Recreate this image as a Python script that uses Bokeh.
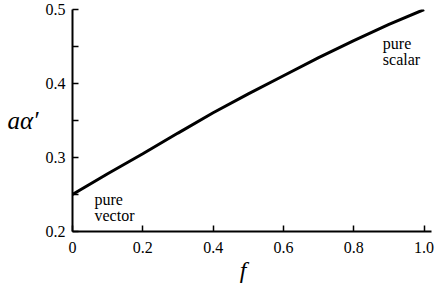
from bokeh.plotting import figure
from bokeh.models import Label, FixedTicker, Range1d
from bokeh.embed import file_html
from bokeh.resources import INLINE

# data
f_vals = [0.0, 0.1, 0.2, 0.3, 0.4, 0.5, 0.6, 0.7, 0.8, 0.9, 1.0]
alpha_vals = [0.25, 0.278, 0.305, 0.333, 0.3605, 0.386, 0.4105, 0.435, 0.458, 0.48, 0.5]
x_ticks = [0.2, 0.4, 0.6, 0.8, 1.0]
x_tick_labels = {0: "0", 0.2: "0.2", 0.4: "0.4", 0.6: "0.6", 0.8: "0.8", 1.0: "1.0"}
y_ticks = [0.2, 0.3, 0.4, 0.5]
y_minor = [0.25, 0.35, 0.45]

FONT = "Liberation Serif"

p = figure(width=442, height=285, output_backend="svg", toolbar_location=None,
           x_range=Range1d(0, 1.021), y_range=Range1d(0.2, 0.5),
           min_border_left=72, min_border_right=11, min_border_top=9, min_border_bottom=52)
p.outline_line_color = None
p.grid.visible = False
p.background_fill_color = "white"
p.border_fill_color = "white"

p.line(f_vals, alpha_vals, line_width=3, line_color="black")

xa = p.xaxis[0]
xa.ticker = FixedTicker(ticks=[0.0] + x_ticks)
xa.major_label_overrides = x_tick_labels
ya = p.yaxis[0]
ya.ticker = FixedTicker(ticks=y_ticks, minor_ticks=y_minor)

for ax in (xa, ya):
    ax.axis_line_width = 2
    ax.axis_line_color = "black"
    ax.major_tick_in = 6
    ax.major_tick_out = 0
    ax.major_tick_line_width = 1.5
    ax.major_tick_line_color = "black"
    ax.major_label_text_font = FONT
    ax.major_label_text_font_style = "normal"
    ax.major_label_text_font_size = "16px"
    ax.major_label_text_color = "black"
    ax.axis_label_text_font = FONT
    ax.axis_label_text_color = "black"

xa.major_label_standoff = 10
ya.major_label_standoff = 7

xa.minor_tick_line_color = None
ya.minor_tick_in = 6
ya.minor_tick_out = 0
ya.minor_tick_line_width = 1.5
ya.minor_tick_line_color = "black"

xa.axis_label = "f\u00a0\u00a0\u00a0"
xa.axis_label_text_font_style = "italic"
xa.axis_label_text_font_size = "24px"
xa.axis_label_standoff = 1

ya.axis_label = "a\u03b1\u2032"
ya.axis_label_text_font_style = "italic"
ya.axis_label_text_font_size = "25px"
ya.axis_label_standoff = 4
ya.axis_label_orientation = "horizontal"

def lab(x, y, t, size="16px", style="normal", align="left"):
    p.add_layout(Label(x=x, y=y, text=t, text_font=FONT, text_font_size=size,
                       text_font_style=style, text_align=align,
                       text_baseline="alphabetic", text_color="black"))

lab(0.0626, 0.2439, "pure")
lab(0.0626, 0.2215, "vector")
lab(0.8826, 0.454, "pure")
lab(0.8826, 0.4325, "scalar")

open("out.html", "w").write(file_html(p, INLINE))
